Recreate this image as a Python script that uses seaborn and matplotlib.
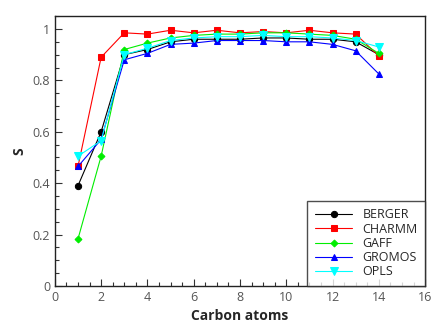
import matplotlib
matplotlib.use("Agg")
import matplotlib.pyplot as plt
import seaborn as sns
import pandas as pd
from matplotlib.ticker import MultipleLocator

carbons = list(range(1, 15))
berger = [0.39, 0.60, 0.90, 0.92, 0.95, 0.96, 0.96, 0.96, 0.965, 0.965, 0.96, 0.96, 0.95, 0.90]
charmm = [0.465, 0.89, 0.985, 0.98, 0.995, 0.985, 0.995, 0.985, 0.99, 0.985, 0.995, 0.985, 0.98, 0.895]
gaff = [0.183, 0.505, 0.92, 0.945, 0.965, 0.975, 0.98, 0.98, 0.985, 0.985, 0.98, 0.975, 0.96, 0.905]
gromos = [0.465, 0.57, 0.88, 0.905, 0.94, 0.945, 0.955, 0.955, 0.955, 0.95, 0.95, 0.94, 0.915, 0.825]
opls = [0.505, 0.565, 0.90, 0.925, 0.955, 0.965, 0.97, 0.97, 0.975, 0.97, 0.97, 0.965, 0.955, 0.93]

series = {"BERGER": berger, "CHARMM": charmm, "GAFF": gaff, "GROMOS": gromos, "OPLS": opls}
colors = {"BERGER": "black", "CHARMM": "red", "GAFF": "#00ee00", "GROMOS": "blue", "OPLS": "cyan"}
markers = {"BERGER": "o", "CHARMM": "s", "GAFF": "D", "GROMOS": "^", "OPLS": "v"}
msizes = {"BERGER": 4.5, "CHARMM": 4.8, "GAFF": 3.5, "GROMOS": 5, "OPLS": 5.5}

rows = []
for name, vals in series.items():
    for c, v in zip(carbons, vals):
        rows.append({"carbon": c, "S": v, "ff": name})
df = pd.DataFrame(rows)

sns.set_style("white")
plt.rcParams["font.family"] = ["Open Sans", "DejaVu Sans"]

fig = plt.figure(figsize=(4.32, 3.29), dpi=100)
ax = fig.add_axes([0.127, 0.131, 0.857, 0.820])

for name in series:
    sub = df[df["ff"] == name]
    sns.lineplot(data=sub, x="carbon", y="S", ax=ax, color=colors[name],
                 marker=markers[name], markersize=msizes[name], markeredgecolor=colors[name],
                 linewidth=0.8, label=name)

ax.set_xlim(0, 16)
ax.set_ylim(0, 1.05)
ax.xaxis.set_major_locator(MultipleLocator(2))
ax.xaxis.set_minor_locator(MultipleLocator(0.5))
ax.yaxis.set_major_locator(MultipleLocator(0.2))
ax.yaxis.set_minor_locator(MultipleLocator(0.05))
ax.set_yticks([0, 0.2, 0.4, 0.6, 0.8, 1.0])
ax.set_yticklabels(["0", "0.2", "0.4", "0.6", "0.8", "1"])
ax.tick_params(axis="both", which="major", direction="in", length=5, width=0.8,
               labelsize=9, labelcolor="#555555", color="#333333",
               top=False, right=False, bottom=True, left=True)
ax.tick_params(axis="both", which="minor", direction="in", length=3, width=0.8,
               color="#333333", top=False, right=False, bottom=True, left=True)
for sp in ax.spines.values():
    sp.set_color("#222222")
    sp.set_linewidth(1.0)

ax.set_xlabel("Carbon atoms", fontsize=10, fontweight="bold")
ax.set_ylabel("S", fontsize=10, fontweight="bold")

leg = ax.legend(loc="lower right", frameon=True, fancybox=False, fontsize=9,
                borderaxespad=0, handlelength=3, labelspacing=0.1, borderpad=0.6)
leg.get_frame().set_edgecolor("#222222")
leg.get_frame().set_linewidth(1.0)

fig.savefig("out.png", dpi=100)
